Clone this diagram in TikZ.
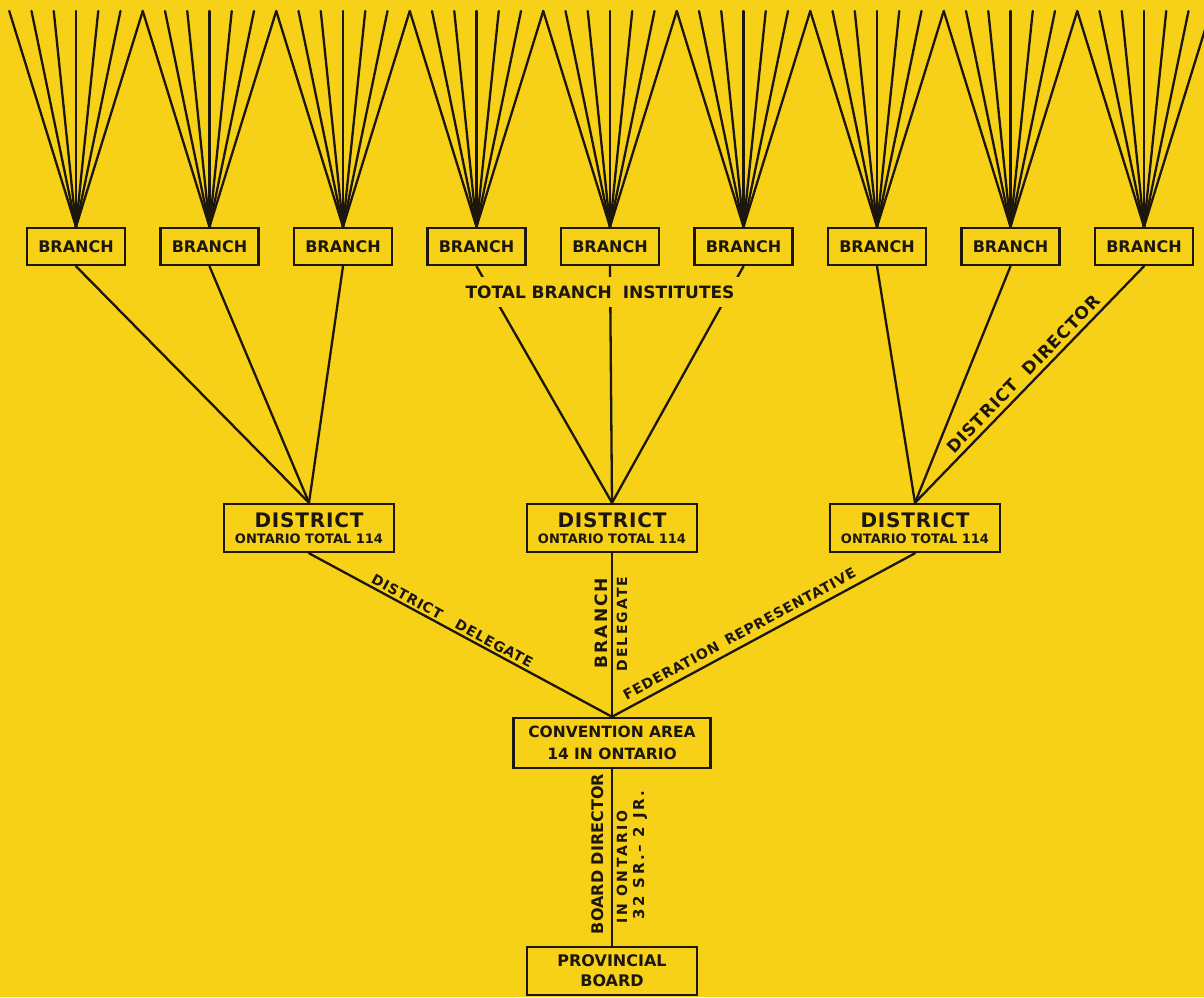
\documentclass[tikz,border=0pt]{standalone}
\usepackage{fontspec}
\setmainfont{DejaVu Sans}
\definecolor{paper}{RGB}{247,209,23}
\definecolor{ink}{RGB}{28,22,12}
\newcommand{\fsz}[1]{\fontsize{#1}{#1}\selectfont\bfseries}
\newcommand{\spaced}[1]{\addfontfeature{LetterSpace=#1}}
\tikzset{
  wire/.style={draw=ink, line width=2.3pt, line cap=round},
  frame/.style={draw=ink, line width=2.5pt, text=ink, inner sep=0pt, align=center},
  branchbox/.style={frame, minimum width=98pt, minimum height=37pt, font=\fsz{16}},
  districtbox/.style={frame, minimum width=170pt, minimum height=48pt},
  tag/.style={text=ink, inner sep=2pt, font=\fsz{14}\spaced{6}},
}
\begin{document}
\begin{tikzpicture}[x=1pt,y=-1pt]
\useasboundingbox[fill=paper] (0,0) rectangle (1204,997);

% tops of the fans
\foreach \j in {0,...,54}
  \coordinate (top\j) at (9.25+22.25*\j, 11);

% branches
\foreach \k in {1,...,9}{
  \pgfmathsetmacro\cx{76+133.5*(\k-1)}
  \node[branchbox] (b\k) at (\cx,246.5) {BRANCH};
  \foreach \i in {0,...,6}{
    \pgfmathtruncatemacro\t{6*(\k-1)+\i}
    \draw[wire] (b\k.north) -- (top\t);
  }
}

% districts
\node[districtbox] (d1) at (309,528) {{\fsz{20}\spaced{4}DISTRICT}\\[4pt]{\fsz{13}ONTARIO TOTAL 114}};
\node[districtbox] (d2) at (612,528) {{\fsz{20}\spaced{4}DISTRICT}\\[4pt]{\fsz{13}ONTARIO TOTAL 114}};
\node[districtbox] (d3) at (915,528) {{\fsz{20}\spaced{4}DISTRICT}\\[4pt]{\fsz{13}ONTARIO TOTAL 114}};

\node[frame, minimum width=197pt, minimum height=50pt, font=\fsz{15.5}] (ca) at (612,743) {CONVENTION AREA\\[6pt]14 IN ONTARIO};
\node[frame, minimum width=170pt, minimum height=48pt, font=\fsz{16}] (pb) at (612,971) {PROVINCIAL\\[4pt]BOARD};

\draw[wire] (b1.south) -- (d1.north);
\draw[wire] (b2.south) -- (d1.north);
\draw[wire] (b3.south) -- (d1.north);
\draw[wire] (b4.south) -- (d2.north);
\draw[wire] (b5.south) -- (d2.north);
\draw[wire] (b6.south) -- (d2.north);
\draw[wire] (b7.south) -- (d3.north);
\draw[wire] (b8.south) -- (d3.north);
\draw[wire] (b9.south) -- node[tag, sloped, above=2pt, pos=0.49, font=\fsz{17}\spaced{6}] {DISTRICT\hspace{0.8em}DIRECTOR} (d3.north);

\node[fill=paper, text=ink, inner sep=9pt, font=\fsz{17}] (tbi) at (600,292) {TOTAL BRANCH\hspace{0.3em} INSTITUTES};

\draw[wire] (d1.south) -- node[tag, sloped, above, pos=0.46] {DISTRICT\hspace{1.2em}DELEGATE} (ca.north);
\draw[wire] (d2.south) -- (ca.north);
\draw[wire] (ca.north) -- node[tag, sloped, above=4pt, pos=0.44] {FEDERATION\hspace{0.6em}REPRESENTATIVE} (d3.south);
\draw[wire] (ca.south) -- (pb.north);

\node[tag, rotate=90, font=\fsz{17}\spaced{12}] (bl) at (601,623) {BRANCH};
\node[tag, rotate=90, font=\fsz{14}\spaced{15}] (dl) at (622,624) {DELEGATE};
\node[tag, rotate=90, font=\fsz{16}] (bd) at (598,854) {BOARD DIRECTOR};
\node[tag, rotate=90, font=\fsz{14}\spaced{18}] (io) at (622,867) {IN ONTARIO};
\node[tag, rotate=90, font=\fsz{15}\spaced{17}] (sr) at (640,855) {32 SR.– 2 JR.};
\end{tikzpicture}
\end{document}
